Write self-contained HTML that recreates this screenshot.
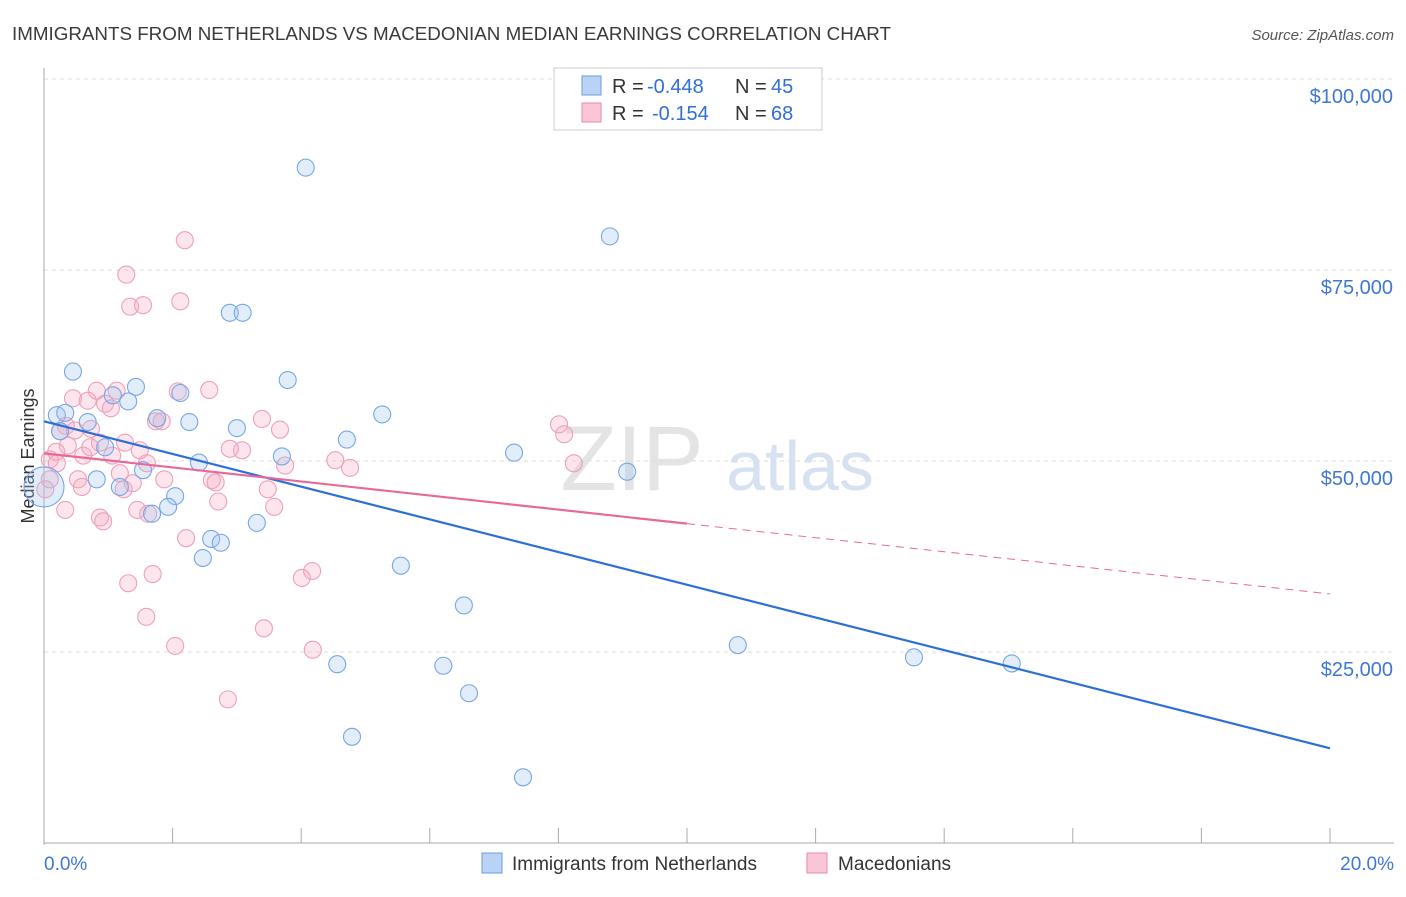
<!DOCTYPE html>
<html><head><meta charset="utf-8"><style>
body{margin:0;background:#fff;font-family:"Liberation Sans",sans-serif}
svg text{font-family:"Liberation Sans",sans-serif}
</style></head><body>
<svg id="c" width="1406" height="892" xmlns="http://www.w3.org/2000/svg">
<text x="12" y="40" font-size="18.8" fill="#3a3a3a">IMMIGRANTS FROM NETHERLANDS VS MACEDONIAN MEDIAN EARNINGS CORRELATION CHART</text>
<text x="1394" y="40" font-size="15" fill="#555" text-anchor="end" font-style="italic">Source: ZipAtlas.com</text>
<text x="34" y="456" font-size="18" fill="#333" text-anchor="middle" transform="rotate(-90 34 456)">Median Earnings</text>
<text x="632" y="490" font-size="92" fill="#e4e4e4" text-anchor="middle" font-family="Liberation Serif">ZIP</text>
<text x="800" y="490" font-size="70" fill="#d6e2f2" text-anchor="middle">atlas</text>
<g id="grid"></g><g id="pts"></g><g id="lines"></g>
<g>
<rect x="554" y="68" width="268" height="62" fill="#fff" stroke="#ccc"/>
<rect x="582" y="76" width="19" height="19" fill="#b9d3f4" stroke="#6a9be0"/>
<rect x="582" y="103" width="19" height="19" fill="#f9c6d6" stroke="#ea8aa8"/>
<text x="612" y="93" font-size="20" fill="#333">R =</text>
<text x="647" y="93" font-size="20" fill="#2f6fd6">-0.448</text>
<text x="735" y="93" font-size="20" fill="#333">N =</text>
<text x="771" y="93" font-size="20" fill="#2f6fd6">45</text>
<text x="612" y="120" font-size="20" fill="#333">R =</text>
<text x="652" y="120" font-size="20" fill="#2f6fd6">-0.154</text>
<text x="735" y="120" font-size="20" fill="#333">N =</text>
<text x="771" y="120" font-size="20" fill="#2f6fd6">68</text>
</g>
<g>
<rect x="482" y="853" width="20" height="20" fill="#b9d3f4" stroke="#6a9be0"/>
<text x="512" y="870" font-size="19" fill="#333">Immigrants from Netherlands</text>
<rect x="807" y="853" width="20" height="20" fill="#f9c6d6" stroke="#ea8aa8"/>
<text x="838" y="870" font-size="19" fill="#333">Macedonians</text>
</g>
</svg>
<script>
const yTicks=[25000,50000,75000,100000];
const yTickLabels=["$25,000","$50,000","$75,000","$100,000"];
const xTickLabels=["0.0%","20.0%"];
const blueX=[4.07,8.8,2.89,3.09,0.45,3.79,1.43,2.12,1.07,1.31,0.2,0.33,5.26,1.76,2.26,0.68,3.0,4.71,7.31,3.7,1.54,2.41,9.07,0.82,1.18,2.04,1.93,1.68,3.31,2.6,2.75,2.47,5.55,6.53,10.79,13.53,15.05,4.56,6.21,6.61,4.79,7.45,0.0,0.25,0.95];
const blueY=[88.4,79.4,69.4,69.4,61.7,60.6,59.7,58.9,58.6,57.8,56.0,56.3,56.1,55.6,55.1,55.1,54.3,52.8,51.1,50.6,48.8,49.8,48.6,47.6,46.6,45.4,44.0,43.1,41.9,39.8,39.3,37.3,36.3,31.1,25.9,24.3,23.5,23.4,23.2,19.6,13.9,8.6,46.6,53.9,51.8];
const pinkX=[2.19,1.28,1.34,1.54,2.12,0.82,1.13,2.57,0.45,0.68,0.95,1.04,2.08,1.74,1.83,3.39,3.67,8.01,8.09,0.34,0.25,0.48,0.73,0.37,0.19,0.09,0.2,0.61,1.06,1.49,1.6,3.08,3.75,4.53,4.76,8.24,0.53,1.18,1.87,2.61,2.67,1.24,0.59,1.38,3.48,2.71,3.58,1.45,1.62,0.87,0.92,2.21,1.69,1.31,4.17,4.01,1.59,3.42,2.04,4.18,2.86,0.09,0.02,0.33,0.87,2.89,0.72,1.26];
const pinkY=[78.9,74.4,70.2,70.4,70.9,59.2,59.2,59.3,58.2,57.9,57.5,56.9,59.1,55.2,55.2,55.5,54.1,54.8,53.5,54.6,53.9,54.0,54.2,52.0,51.2,50.2,49.7,50.7,50.7,51.4,49.7,51.4,49.4,50.1,49.1,49.7,47.6,48.4,47.6,47.5,47.2,46.3,46.6,47.1,46.3,44.7,44.0,43.6,43.1,42.6,42.1,39.9,35.2,34.0,35.6,34.7,29.6,28.1,25.8,25.3,18.8,47.6,46.3,43.6,52.4,51.6,51.8,52.4];
const X=v=>44+v*64.3, Y=v=>843-v*191/25000;
const K=1000;
const NS="http://www.w3.org/2000/svg";
function mk(t,a,p){const e=document.createElementNS(NS,t);for(const k in a)e.setAttribute(k,a[k]);p.appendChild(e);return e;}
const g=document.getElementById('grid');
yTicks.forEach((t,i)=>{
 const l=mk('line',{x1:44,x2:1394,y1:Y(t),y2:Y(t),stroke:'#ddd','stroke-dasharray':'4,4'},g);
 
 
 const tx=mk('text',{x:1393,y:Y(t)+24,'font-size':20,fill:'#3f78d4','text-anchor':'end'},g);tx.textContent=yTickLabels[i];
 
 
});
mk('line',{x1:44,x2:44,y1:68,y2:845,stroke:'#aaa'},g);
mk('line',{x1:44,x2:1394,y1:843,y2:843,stroke:'#aaa'},g);
for(let i=0;i<=10;i++){mk('line',{x1:X(i*2),x2:X(i*2),y1:828,y2:843,stroke:'#aaa'},g);}
const x0=mk('text',{x:44,y:870,'font-size':19,fill:'#3f78d4'},g);x0.textContent=xTickLabels[0];


const x1=mk('text',{x:1394,y:870,'font-size':19,fill:'#3f78d4','text-anchor':'end'},g);x1.textContent=xTickLabels[1];


const p=document.getElementById('pts');
pinkX.forEach((v,i)=>{const c=mk('circle',{cx:X(v),cy:Y(pinkY[i]*K),r:8.5,fill:'rgba(246,170,195,0.3)',stroke:'#eea0b9','stroke-width':1.1},p);
 
 });
blueX.forEach((v,i)=>{const c=mk('circle',{cx:X(v),cy:Y(blueY[i]*K),r:i==42?20:8.5,fill:'rgba(160,195,240,0.3)',stroke:'#78a6e4','stroke-width':1.1},p);
 
 });
const L=document.getElementById('lines');
const bl=mk('line',{x1:X(0),y1:Y(55200),x2:X(20),y2:Y(12400),stroke:'#2d6fd6','stroke-width':2.2},L);


const pl=mk('line',{x1:X(0),y1:Y(51000),x2:X(10),y2:Y(41800),stroke:'#e8689a','stroke-width':2.2},L);


const pd=mk('line',{x1:X(10),y1:Y(41800),x2:X(20),y2:Y(32600),stroke:'#e8689a','stroke-width':1,'stroke-dasharray':'8,6'},L);


</script>
</body></html>
